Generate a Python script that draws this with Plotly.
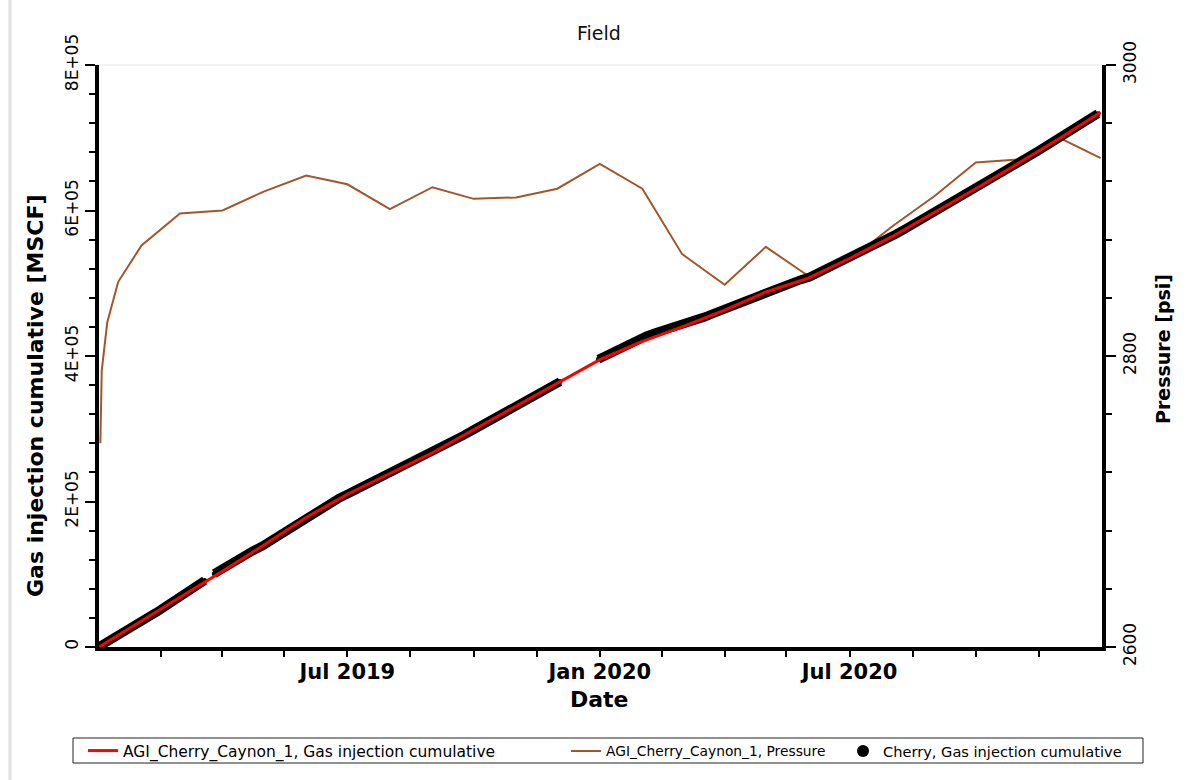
import pandas as pd
import plotly.graph_objects as go

# ---- data -------------------------------------------------------------
# Simulated cumulative gas injection (MSCF), monthly
sim_dates = ["2019-01-01", "2019-02-01", "2019-03-01", "2019-04-01", "2019-05-01",
             "2019-06-01", "2019-07-01", "2019-08-01", "2019-09-01", "2019-10-01",
             "2019-11-01", "2019-12-01", "2020-01-01", "2020-02-01", "2020-03-01",
             "2020-04-01", "2020-05-01", "2020-06-01", "2020-07-01", "2020-08-01",
             "2020-09-01", "2020-10-01", "2020-11-01", "2020-12-01", "2020-12-31"]
sim_cum = [0, 35600, 67700, 104000, 140000, 178000, 210000, 238500, 267000, 298600,
           331000, 362700, 395000, 420000, 440000, 463000, 488000, 507000, 534000,
           564000, 597000, 630000, 665000, 699000, 735000]

# Simulated bottom-hole pressure (psi)
press_dates = ["2019-01-02", "2019-01-03", "2019-01-07", "2019-01-15", "2019-02-01",
               "2019-03-01", "2019-04-01", "2019-05-01", "2019-06-01", "2019-07-01",
               "2019-08-01", "2019-09-01", "2019-10-01", "2019-11-01", "2019-12-01",
               "2020-01-01", "2020-02-01", "2020-03-01", "2020-04-01", "2020-05-01",
               "2020-06-01", "2020-07-01", "2020-08-01", "2020-09-01", "2020-10-01",
               "2020-11-01", "2020-12-01", "2020-12-31"]
press_psi = [2740, 2790, 2823, 2851, 2876, 2898, 2900, 2913, 2924, 2918, 2901, 2916,
             2908, 2909, 2915, 2932, 2915, 2870, 2849, 2875, 2855, 2866, 2889, 2910,
             2933, 2935, 2950, 2936]

# Observed cumulative gas injection (MSCF), weekly from 2019-01-01; None = no data
obs_start = "2019-01-01"
obs_cum = [500, 7700, 15800, 23800, 31900, 39900, 47900, 55900, 64000, 75300, 83400,
           91400, 100700, 109200, 117600, 125000, 132000, 138800, 147400, 155900,
           164500, 173100, 181700, 190200, 198400, 204600, 210900, 217400, 223800,
           230200, 236700, 243100, 249400, 255800, 262200, 269100, 276500, 283800,
           291200, 298600, 305900, 313200, 320500, 327900, 335200, 342600, 350000,
           357400, 364800, None, None, None, 395500, 402300, 408500, 414600, 421300,
           427600, 432400, 436200, 439600, 443500, 448700, 453400, 458600, 463800,
           469500, 475300, 481200, 487000, 491800, 496000, 500300, 504600, 508500,
           514800, 521100, 527400, 533700, 540400, 547200, 553900, 560600, 567700,
           575100, 582600, 590100, 597500, 605200, 612900, 620600, 628300, 636100,
           644000, 652000, 659900, 667800, 675700, 683600, 691600, 699500, 707900,
           716300, 724700, 733100]
# short interruption in the record between two weekly readings
obs_breaks = ["2019-03-23"]

# Axis ticks
x_major = ["2019-07-01", "2020-01-01", "2020-07-01"]
x_major_text = ["Jul 2019", "Jan 2020", "Jul 2020"]
x_minor = ["2019-02-15", "2019-04-01", "2019-05-16", "2019-08-16", "2019-10-01",
           "2019-11-16", "2020-02-15", "2020-04-01", "2020-05-16", "2020-08-16",
           "2020-10-01", "2020-11-16"]
cum_ticks = [0, 200000, 400000, 600000, 800000]
cum_tick_text = ["0", "2E+05", "4E+05", "6E+05", "8E+05"]
press_ticks = [2600, 2800, 3000]

# observed series with the interruption rows inserted (None breaks the line)
obs = pd.DataFrame({"date": pd.date_range(obs_start, periods=len(obs_cum), freq="7D"),
                    "cum": obs_cum})
obs = pd.concat([obs, pd.DataFrame({"date": pd.to_datetime(obs_breaks),
                                    "cum": [None] * len(obs_breaks)})])
obs = obs.sort_values("date").reset_index(drop=True)
obs_y = [None if pd.isna(v) else v for v in obs["cum"]]

# ---- layout geometry (pixels) ----------------------------------------
W, H = 1204, 780
L, R, T, B = 99, 102, 65, 133
PW, PH = W - L - R, H - T - B


def px_x(px):
    return (px - L) / PW


def px_y(py):
    return (H - B - py) / PH


FONT = "DejaVu Sans"
BROWN = "#A3562A"

fig = go.Figure()

# pressure first (underneath), on the right-hand axis
fig.add_trace(go.Scatter(
    x=press_dates, y=press_psi, mode="lines", yaxis="y",
    line=dict(color=BROWN, width=2),
    name="AGI_Cherry_Caynon_1, Pressure", legend="legend2"))

# observed cumulative: thick band + dot markers
fig.add_trace(go.Scatter(
    x=obs["date"], y=obs_y, mode="lines", yaxis="y2", connectgaps=False,
    line=dict(color="black", width=9), showlegend=False, hoverinfo="skip"))
fig.add_trace(go.Scatter(
    x=obs["date"], y=obs_y, mode="markers", yaxis="y2",
    marker=dict(color="black", size=5),
    name="Cherry, Gas injection cumulative", legend="legend3"))

# simulated cumulative on top
fig.add_trace(go.Scatter(
    x=sim_dates, y=sim_cum, mode="lines", yaxis="y2",
    line=dict(color="#FF0000", width=3),
    name="AGI_Cherry_Caynon_1, Gas injection cumulative", legend="legend"))

axis_common = dict(showgrid=False, zeroline=False, showline=True, linecolor="black",
                   linewidth=3.5, ticks="outside", tickcolor="black", tickwidth=1.5)

leg_y = px_y(751)


def leg_font(size):
    return dict(family=FONT, size=size, color="black")


fig.update_layout(
    width=W, height=H, autosize=False,
    margin=dict(l=L, r=R, t=T, b=B, pad=0),
    paper_bgcolor="white", plot_bgcolor="white",
    font=dict(family=FONT, color="black"),
    xaxis=dict(type="date", range=["2019-01-01", "2021-01-01"],
               tickmode="array", tickvals=x_major, ticktext=x_major_text,
               ticklen=6, ticklabelstandoff=-3,
               tickfont=dict(family=FONT, size=21, weight="bold"),
               minor=dict(tickmode="array", tickvals=x_minor, ticks="outside",
                          ticklen=6, tickcolor="black", tickwidth=1.5),
               **axis_common),
    yaxis=dict(side="right", range=[2600, 3000], anchor="x",
               tickmode="array", tickvals=press_ticks, ticklen=10, tickangle=-90,
               tickfont=dict(family=FONT, size=17),
               minor=dict(dtick=40, ticks="outside", ticklen=6,
                          tickcolor="black", tickwidth=1.5),
               **axis_common),
    yaxis2=dict(side="left", overlaying="y", range=[0, 800000], anchor="x",
                tickmode="array", tickvals=cum_ticks, ticktext=cum_tick_text,
                ticklen=10, tickangle=-90, tickfont=dict(family=FONT, size=17),
                minor=dict(dtick=40000, ticks="outside", ticklen=6,
                           tickcolor="black", tickwidth=1.5),
                **axis_common),
    legend=dict(orientation="h", x=px_x(83), xanchor="left", y=leg_y, yanchor="middle",
                bgcolor="rgba(0,0,0,0)", borderwidth=0, font=leg_font(15.5)),
    legend2=dict(orientation="h", x=px_x(566), xanchor="left", y=leg_y, yanchor="middle",
                 bgcolor="rgba(0,0,0,0)", borderwidth=0, font=leg_font(13.8)),
    legend3=dict(orientation="h", x=px_x(843), xanchor="left", y=leg_y, yanchor="middle",
                 bgcolor="rgba(0,0,0,0)", borderwidth=0, font=leg_font(14.6),
                 itemsizing="constant"),
    showlegend=True,
)

# titles
fig.add_annotation(text="Field", xref="paper", yref="paper", x=px_x(599), y=px_y(33),
                   showarrow=False, font=dict(family=FONT, size=19, color="#111"),
                   xanchor="center", yanchor="middle")
fig.add_annotation(text="Date", xref="paper", yref="paper", x=px_x(599), y=px_y(700),
                   showarrow=False, font=dict(family=FONT, size=22, weight="bold"),
                   xanchor="center", yanchor="middle")
fig.add_annotation(text="Gas injection cumulative [MSCF]", xref="paper", yref="paper",
                   x=px_x(35), y=px_y(396), textangle=-90, showarrow=False,
                   font=dict(family=FONT, size=22, weight="bold"),
                   xanchor="center", yanchor="middle")
fig.add_annotation(text="Pressure [psi]", xref="paper", yref="paper",
                   x=px_x(1163), y=px_y(349), textangle=-90, showarrow=False,
                   font=dict(family=FONT, size=19, weight="bold"),
                   xanchor="center", yanchor="middle")

# legend frame
fig.add_shape(type="rect", xref="paper", yref="paper",
              x0=px_x(73), x1=px_x(1143), y0=px_y(763), y1=px_y(738),
              line=dict(color="#222", width=1), fillcolor="rgba(0,0,0,0)", layer="above")
# faint frame lines
fig.add_shape(type="line", xref="paper", yref="paper",
              x0=0, x1=1, y0=1, y1=1, line=dict(color="#e6e6e6", width=1), layer="below")
fig.add_shape(type="line", xref="paper", yref="paper",
              x0=px_x(10), x1=px_x(10), y0=px_y(0), y1=px_y(780),
              line=dict(color="#e0e0e0", width=3))

fig.write_html("out.html")
